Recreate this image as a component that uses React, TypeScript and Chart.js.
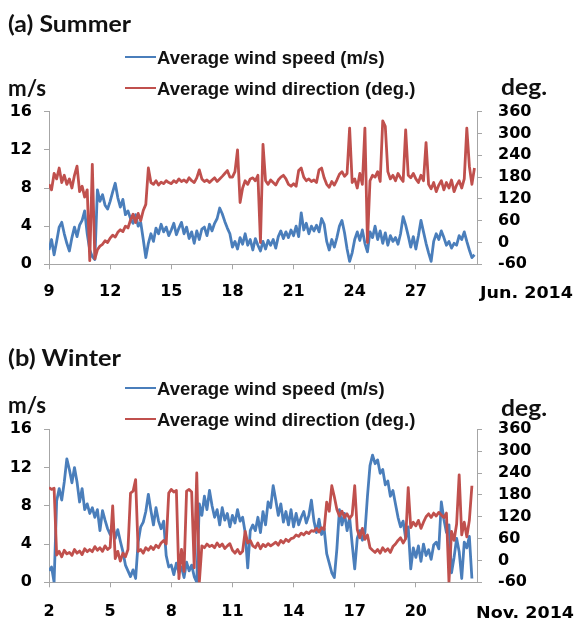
import React, { useEffect, useRef } from 'react';
import Chart from 'chart.js/auto';

// ---------- data (3-hourly samples, 8 per day) ----------
const SAMPLES_PER_DAY = 8;

const summerStartDay = 9;
const summerEndDay = 30;
const summerTickDays = [9, 12, 15, 18, 21, 24, 27];
const summerMonthLabel = 'Jun. 2014';

// Average wind speed (m/s), June 9.0 .. 29.875
const summerSpeed = [
  1.5, 2.6, 1.0, 2.4, 3.9, 4.4, 3.2, 2.2,
  1.4, 2.8, 3.9, 2.9, 4.1, 4.6, 5.6, 3.2,
  1.5, 0.8, 0.5, 7.8, 6.6, 7.3, 6.2, 5.8,
  6.6, 7.6, 8.5, 7.0, 6.0, 6.8, 5.2, 5.6,
  4.8, 4.3, 5.2, 4.0, 4.4, 2.6, 0.7, 2.2,
  3.2, 2.4, 3.8, 3.2, 4.2, 3.4, 3.9, 3.0,
  3.6, 4.3, 3.1, 3.8, 4.4, 3.2, 3.9, 2.7,
  3.4, 2.2, 3.5, 2.6, 3.7, 3.9, 3.0, 4.2,
  3.5, 4.3, 4.8, 5.9, 5.3, 4.5, 3.8, 3.2,
  1.8, 2.4, 1.6, 2.8, 2.1, 3.2, 2.0, 2.6,
  1.5, 2.7, 2.0, 1.4, 2.4, 1.6, 2.5, 2.0,
  2.6, 1.7, 2.9, 3.5, 2.7, 3.4, 2.8, 3.6,
  3.0, 4.0, 2.9, 5.4, 3.6, 4.3, 3.2, 4.0,
  3.5, 4.1, 3.4, 4.8, 4.2, 2.4, 1.5, 2.6,
  1.8, 2.8, 4.0, 4.6, 3.3, 1.6, 0.3, 1.2,
  2.6, 3.4, 2.5, 3.6, 2.2, 1.3, 3.4, 2.8,
  4.0, 2.6, 3.5, 2.2, 3.3, 2.0, 3.0, 2.4,
  2.8, 2.1, 3.2, 5.0, 4.1, 3.0, 1.8, 2.9,
  1.6, 3.0, 4.6, 3.4, 2.2, 1.2, 0.3, 2.4,
  3.2, 2.6, 3.5, 2.8, 2.0, 2.4, 1.7, 2.2,
  2.0, 3.0, 2.6, 3.4, 2.4, 1.5, 0.7, 1.0,
];

// Average wind direction (deg.), June 9.0 .. 29.875
const summerDirection = [
  160, 145, 190, 175, 205, 165, 185, 160,
  175, 150, 185, 210, 140, 155, 125, 145,
  -50, 215, -45, -20, -10, -5, 5, 0,
  12, 20, 15, 28, 35, 30, 45, 40,
  62, 78, 55, 80, 60, 88, 105, 205,
  165, 160, 170, 158, 166, 162, 170, 165,
  162, 170, 165, 175, 168, 172, 166, 178,
  170, 165, 178, 200, 175, 168, 172, 165,
  172, 178, 168, 175, 182, 190, 198, 180,
  180, 195, 255, 110, 150, 170, 160, 175,
  178, 170, 185, 0, 270, 170, 160, 172,
  165, 158, 172, 180, 185, 175, 160, 155,
  162, 155, 198, 205, 180, 170, 175, 168,
  172, 165, 200, 205, 178, 160, 152, 168,
  158, 172, 188, 195, 182, 190, 315, 165,
  175, 150, 190, 160, 315, 0, 170, 185,
  180, 195, 168, 335, 320, 195, 175, 185,
  170, 190, 178, 168, 310, 185, 178, 190,
  175, 165, 185, 170, 275, 160, 148, 165,
  140, 158, 170, 145, 165, 150, 172, 140,
  158, 170, 150, 175, 315, 210, 160, 205,
];

const winterStartDay = 2;
const winterEndDay = 23;
const winterTickDays = [2, 5, 8, 11, 14, 17, 20];
const winterMonthLabel = 'Nov. 2014';

// Average wind speed (m/s), Nov 2.0 .. 22.75
const winterSpeed = [
  1.2, 1.6, 0.0, 8.5, 9.8, 8.6, 10.5, 12.9,
  11.8, 10.4, 12.0, 10.5, 8.4, 9.8, 7.6, 8.2,
  7.2, 7.8, 6.8, 7.6, 5.4, 7.5, 6.5, 5.6,
  5.0, 6.2, 4.6, 5.5, 4.3, 3.2, 1.8, 1.2,
  0.6, 1.3, 0.4, 4.2, 5.8, 6.3, 7.4, 9.2,
  7.5, 6.0, 7.8, 6.4, 5.6, 6.4, 2.8, 1.6,
  1.8, 0.8, 2.0, 1.0, 1.6, 0.5, 2.1, 1.2,
  1.8, 0.6, 0.0, 8.2, 7.0, 9.0, 7.6, 9.6,
  8.0, 6.8, 7.6, 6.0, 7.8, 6.5, 7.2, 5.8,
  7.0, 6.2, 7.6, 6.4, 6.8, 5.2, 1.5, 5.4,
  6.0, 5.4, 6.8, 5.2, 7.4, 6.0, 8.4, 7.8,
  10.1, 8.6, 7.0, 8.2, 6.3, 7.4, 6.0, 7.6,
  5.8, 7.2, 6.0, 6.8, 7.4, 6.2, 7.0, 8.6,
  6.4, 5.2, 6.6, 5.0, 5.6, 3.0, 2.0, 1.0,
  0.5, 3.5, 7.6, 6.0, 7.2, 5.4, 6.8, 4.0,
  1.4, 4.6, 5.4, 4.4, 5.2, 9.0, 12.2, 13.3,
  12.4, 12.8, 11.4, 11.8, 10.2, 10.6, 9.0, 9.6,
  8.2, 6.8, 5.8, 6.4, 4.6, 5.8, 1.4, 3.6,
  2.6, 3.8, 2.2, 4.0, 2.8, 3.4, 2.4, 3.9,
  4.2, 3.5, 8.4, 6.6, 5.2, 6.0, 1.0, 2.6,
  4.6, 3.2, 0.4, 4.2, 3.6, 4.8, 0.4,
];

// Average wind direction (deg.), Nov 2.0 .. 22.75
const winterDirection = [
  200, 195, 198, 15, 25, 10, 28, 18,
  22, 14, 30, 20, 26, 16, 32, 24,
  30, 24, 38, 28, 35, 25, 40, 30,
  36, 150, 5, 25, -2, 20, 10, 30,
  185, 190, 222, 25, 30, 20, 35, 28,
  38, 30, 42, 35, 48, 55, 45, 185,
  195, 188, 192, -50, 30, -30, 190, 195,
  188, -20, 240, -60, 40, 35, 45, 38,
  42, 35, 48, 38, 45, 33, 40, 46,
  28, 20, 30, 18, 25, 80, 48, 55,
  40, 35, 48, 32, 44, 38, 46, 40,
  45, 50, 42, 55, 48, 58, 52, 60,
  62, 70, 66, 75, 70, 78, 74, 82,
  80, 88, 78, 90, 85, 160, 135, 205,
  175, 140, 122, 135, 118, 128, 115, 125,
  205, 85, 62, 88, 58, 70, 35, 28,
  22, 30, 20, 35, 25, 32, 22, 38,
  45, 55, 62, 48, 60, 200, 90, 105,
  95, 110, 88, 105, 120, 128, 118, 130,
  122, 132, 125, 118, 130, -60, 80, 55,
  100, 235, 70, 105, 65, 110, 205,
];

const speedTicks = [0, 4, 8, 12, 16];
const directionTicks = [-60, 0, 60, 120, 180, 240, 300, 360];

const SPEED_LABEL = 'Average wind speed (m/s)';
const DIRECTION_LABEL = 'Average wind direction (deg.)';

// ---------- styles ----------
const BLUE = '#4a7ebb';
const RED = '#c0504d';
const AXIS = '#a6a6a6';
const TICK_FONT = { family: 'DejaVu Sans', weight: 'bold' as const, size: 16 };

type PanelProps = {
  speed: number[];
  direction: number[];
  startDay: number;
  endDay: number;
  tickDays: number[];
  top: number;
  height: number;
  padTop: number;
  xHeight: number;
  xLabelPad: number;
};

function Panel({ speed, direction, startDay, endDay, tickDays, top, height, padTop, xHeight, xLabelPad }: PanelProps) {
  const ref = useRef<HTMLCanvasElement>(null);
  useEffect(() => {
    if (!ref.current) return;
    const toPoints = (vals: number[]) =>
      vals.map((v, i) => ({ x: startDay + i / SAMPLES_PER_DAY, y: v }));
    const axisGrid = { drawOnChartArea: false, drawTicks: true, tickLength: 5, color: AXIS };
    const lineStyle = { borderWidth: 2.8, pointRadius: 0, tension: 0, borderJoinStyle: 'round' as const };
    const chart = new Chart(ref.current, {
      type: 'line',
      data: {
        datasets: [
          {
            label: DIRECTION_LABEL,
            data: toPoints(direction),
            yAxisID: 'y1',
            borderColor: RED,
            backgroundColor: RED,
            ...lineStyle,
          },
          {
            label: SPEED_LABEL,
            data: toPoints(speed),
            yAxisID: 'y',
            borderColor: BLUE,
            backgroundColor: BLUE,
            ...lineStyle,
          },
        ],
      },
      options: {
        animation: false,
        responsive: false,
        layout: { padding: { top: padTop, left: 0, right: 0, bottom: 0 } },
        plugins: { legend: { display: false }, tooltip: { enabled: false } },
        scales: {
          x: {
            type: 'linear',
            min: startDay,
            max: endDay,
            afterBuildTicks: (axis: any) => {
              axis.ticks = tickDays.map((v) => ({ value: v }));
            },
            ticks: { font: TICK_FONT, color: '#000', padding: xLabelPad, maxRotation: 0, autoSkip: false },
            grid: axisGrid,
            border: { color: AXIS, width: 1 },
            afterFit: (s: any) => { s.height = xHeight; },
          },
          y: {
            position: 'left',
            min: 0,
            max: 16,
            afterBuildTicks: (axis: any) => {
              axis.ticks = speedTicks.map((v) => ({ value: v }));
            },
            ticks: { font: TICK_FONT, color: '#000', padding: 12, autoSkip: false },
            grid: axisGrid,
            border: { color: AXIS, width: 1 },
            afterFit: (s: any) => { s.width = 49; },
          },
          y1: {
            position: 'right',
            min: -60,
            max: 360,
            afterBuildTicks: (axis: any) => {
              axis.ticks = directionTicks.map((v) => ({ value: v }));
            },
            ticks: { font: TICK_FONT, color: '#000', padding: 16, autoSkip: false },
            grid: axisGrid,
            border: { color: AXIS, width: 1 },
            afterFit: (s: any) => { s.width = 99; },
          },
        },
      },
    } as any);
    return () => chart.destroy();
  }, []);
  return (
    <canvas
      ref={ref}
      width={576}
      height={height}
      style={{ position: 'absolute', left: 0, top, width: 576, height, display: 'block' }}
    />
  );
}

const titleStyle = { fontFamily: 'Lato', fontWeight: 700, fontSize: 22, fill: '#111' };
const legendStyle = { fontFamily: 'Liberation Sans', fontWeight: 700, fontSize: 18.5, fill: '#111' };
const monthStyle = { fontFamily: 'DejaVu Sans', fontWeight: 700, fontSize: 16, fill: '#000' };

function Overlay() {
  return (
    <svg
      width={576}
      height={622}
      style={{ position: 'absolute', left: 0, top: 0, pointerEvents: 'none' }}
    >
      {/* panel (a) */}
      <text x={8} y={32} style={titleStyle} textLength={123} lengthAdjust="spacingAndGlyphs">(a) Summer</text>
      <line x1={125} x2={156} y1={57} y2={57} stroke={BLUE} strokeWidth={2} />
      <text x={157} y={64} style={legendStyle}>{SPEED_LABEL}</text>
      <line x1={125} x2={156} y1={88} y2={88} stroke={RED} strokeWidth={2} />
      <text x={157} y={95} style={legendStyle}>{DIRECTION_LABEL}</text>
      <text x={8} y={96} style={titleStyle} textLength={38} lengthAdjust="spacingAndGlyphs">m/s</text>
      <text x={501} y={95} style={titleStyle} textLength={46} lengthAdjust="spacingAndGlyphs">deg.</text>
      <text x={480} y={298} style={monthStyle} textLength={93} lengthAdjust="spacingAndGlyphs">{summerMonthLabel}</text>

      {/* panel (b) */}
      <text x={8} y={366} style={titleStyle} textLength={113} lengthAdjust="spacingAndGlyphs">(b) Winter</text>
      <line x1={125} x2={156} y1={388} y2={388} stroke={BLUE} strokeWidth={2} />
      <text x={157} y={395} style={legendStyle}>{SPEED_LABEL}</text>
      <line x1={125} x2={156} y1={419} y2={419} stroke={RED} strokeWidth={2} />
      <text x={157} y={426} style={legendStyle}>{DIRECTION_LABEL}</text>
      <text x={8} y={413} style={titleStyle} textLength={38} lengthAdjust="spacingAndGlyphs">m/s</text>
      <text x={501} y={416} style={titleStyle} textLength={46} lengthAdjust="spacingAndGlyphs">deg.</text>
      <text x={476} y={618} style={monthStyle} textLength={98} lengthAdjust="spacingAndGlyphs">{winterMonthLabel}</text>
    </svg>
  );
}

export default function App() {
  return (
    <div style={{ position: 'absolute', left: 0, top: 0, width: 576, height: 622, background: '#fff', overflow: 'hidden' }}>
      <Panel
        speed={summerSpeed}
        direction={summerDirection}
        startDay={summerStartDay}
        endDay={summerEndDay}
        tickDays={summerTickDays}
        top={80}
        height={230}
        padTop={31.7}
        xHeight={45.7}
        xLabelPad={13}
      />
      <Panel
        speed={winterSpeed}
        direction={winterDirection}
        startDay={winterStartDay}
        endDay={winterEndDay}
        tickDays={winterTickDays}
        top={398}
        height={224}
        padTop={31.3}
        xHeight={39.7}
        xLabelPad={15}
      />
      <Overlay />
    </div>
  );
}
